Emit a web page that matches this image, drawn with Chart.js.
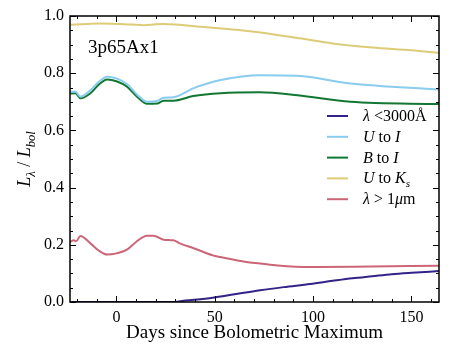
<!DOCTYPE html>
<html>
<head>
<meta charset="utf-8">
<script src="https://cdn.jsdelivr.net/npm/chart.js@4.4.0/dist/chart.umd.min.js"></script>
<style>
  body { margin: 0; background: #fff; }
  #wrap { width: 463px; height: 348px; position: relative; }
</style>
</head>
<body>
<div id="wrap"><canvas id="myChart"></canvas></div>
<script>
// Valores (días desde el máximo bolométrico)
const uvDays = [-23.6, 0, 28, 35, 49, 60, 73, 85, 98.5, 110, 120, 130, 140, 150, 164];
const uvFrac = [0, 0, 0, 0.005, 0.015, 0.027, 0.041, 0.052, 0.063, 0.074, 0.083, 0.09, 0.097, 0.102, 0.108];

const uiDays = [-23.6, -20.8, -18.3, -13.2, -9, -4.7, 0, 5.4, 10.5, 15.6, 20.7, 24, 29, 39, 53, 73, 92, 119, 164];
const uiFrac = [0.735, 0.735, 0.718, 0.74, 0.77, 0.788, 0.782, 0.762, 0.725, 0.700, 0.703, 0.714, 0.716, 0.747, 0.776, 0.793, 0.791, 0.764, 0.743];

const biDays = [-23.6, -20.8, -18.3, -13.2, -9, -4.7, 0, 5.4, 10.5, 15.6, 20.7, 24, 29, 39, 53, 73, 92, 119, 164];
const biFrac = [0.729, 0.73, 0.712, 0.73, 0.76, 0.778, 0.772, 0.753, 0.718, 0.693, 0.694, 0.704, 0.704, 0.72, 0.73, 0.733, 0.723, 0.700, 0.692];

const ukDays = [-23.6, -15, -8, 2, 8, 14, 20, 24, 30, 42.6, 55, 70, 93, 110, 130, 150, 164];
const ukFrac = [0.969, 0.972, 0.974, 0.972, 0.97, 0.968, 0.971, 0.972, 0.97, 0.9625, 0.955, 0.945, 0.922, 0.904, 0.89, 0.88, 0.871];

const irDays = [-23.6, -21.7, -20.5, -18.3, -13.2, -9, -4.7, 0, 5.4, 10, 15.6, 18.8, 24, 29, 32.5, 39, 49, 53, 66, 73, 82, 98.5, 120, 164];
const irFrac = [0.21, 0.216, 0.212, 0.231, 0.205, 0.18, 0.166, 0.17, 0.183, 0.21, 0.232, 0.232, 0.218, 0.216, 0.204, 0.189, 0.163, 0.157, 0.14, 0.135, 0.128, 0.1225, 0.123, 0.127];

const xTicks = [0, 50, 100, 150];
const yTicks = [0, 0.2, 0.4, 0.6, 0.8, 1.0];

// Leyenda: trozos de texto con estilo ("n" normal, "i" cursiva, "s" subíndice)
const legendLabels = [
  [["λ", "i"], [" <3000Å", "n"]],
  [["U", "i"], [" to ", "n"], ["I", "i"]],
  [["B", "i"], [" to ", "n"], ["I", "i"]],
  [["U", "i"], [" to ", "n"], ["K", "i"], ["s", "s"]],
  [["λ", "i"], [" > 1", "n"], ["μ", "i"], ["m", "n"]]
];
const colors = ["#332288", "#88CCEE", "#117733", "#DDCC77", "#CC6677"];
const modelName = "3p65Ax1";

function pts(xs, ys) {
  return xs.map((x, i) => ({ x: x, y: ys[i] }));
}

const serif = "'Liberation Serif', 'DejaVu Serif', serif";

function drawParts(ctx, parts, x, y, size) {
  let cx = x;
  parts.forEach(p => {
    const txt = p[0], st = p[1];
    let fs = size, dy = 0, style = "";
    if (st === "i") style = "italic ";
    if (st === "s") { style = "italic "; fs = size * 0.7; dy = size * 0.25; }
    ctx.font = style + fs + "px " + serif;
    ctx.fillText(txt, cx, y + dy);
    cx += ctx.measureText(txt).width;
  });
  return cx - x;
}

const decorPlugin = {
  id: "decor",
  afterDraw(chart) {
    const ctx = chart.ctx;
    const a = chart.chartArea;
    const xs = chart.scales.x, ys = chart.scales.y;
    ctx.save();
    ctx.strokeStyle = "#000";
    ctx.lineWidth = 1.5;
    ctx.strokeRect(a.left, a.top, a.right - a.left, a.bottom - a.top);

    ctx.lineWidth = 1;
    ctx.beginPath();
    for (let d = -20; d <= 160; d += 10) {
      const px = Math.round(xs.getPixelForValue(d)) + 0.5;
      const len = d % 50 === 0 ? 6 : 3;
      ctx.moveTo(px, a.bottom); ctx.lineTo(px, a.bottom - len);
      ctx.moveTo(px, a.top); ctx.lineTo(px, a.top + len);
    }
    for (let k = 0; k <= 20; k++) {
      const v = k * 0.05;
      const py = Math.round(ys.getPixelForValue(v)) + 0.5;
      const len = k % 4 === 0 ? 6 : 3;
      ctx.moveTo(a.left, py); ctx.lineTo(a.left + len, py);
      ctx.moveTo(a.right, py); ctx.lineTo(a.right - len, py);
    }
    ctx.stroke();

    ctx.fillStyle = "#000";
    ctx.textBaseline = "alphabetic";
    ctx.font = "19px " + serif;
    ctx.fillText(modelName, a.left + 18, 53);

    // leyenda
    const lx = a.right - 112, ly0 = 116, step = 20.8;
    legendLabels.forEach((parts, i) => {
      const y = ly0 + i * step;
      ctx.strokeStyle = colors[i];
      ctx.lineWidth = 2;
      ctx.beginPath();
      ctx.moveTo(lx, y); ctx.lineTo(lx + 21, y);
      ctx.stroke();
      ctx.fillStyle = "#000";
      drawParts(ctx, parts, lx + 36, y + 5, 16);
    });

    // etiqueta eje y
    ctx.save();
    ctx.translate(30, (a.top + a.bottom) / 2);
    ctx.rotate(-Math.PI / 2);
    const parts = [["L", "i"], ["λ", "s"], [" / ", "n"], ["L", "i"], ["bol", "s"]];
    ctx.globalAlpha = 0;
    const w = drawParts(ctx, parts, 0, 0, 18);
    ctx.globalAlpha = 1;
    drawParts(ctx, parts, -w / 2, 0, 18);
    ctx.restore();

    ctx.restore();
  }
};

const ctx = document.getElementById("myChart").getContext("2d");
const myChart = new Chart(ctx, {
  type: "line",
  data: {
    datasets: [
      { label: "uv", data: pts(uvDays, uvFrac), borderColor: colors[0] },
      { label: "UI", data: pts(uiDays, uiFrac), borderColor: colors[1] },
      { label: "BI", data: pts(biDays, biFrac), borderColor: colors[2] },
      { label: "UK", data: pts(ukDays, ukFrac), borderColor: colors[3] },
      { label: "ir", data: pts(irDays, irFrac), borderColor: colors[4] }
    ]
  },
  options: {
    responsive: true,
    maintainAspectRatio: false,
    animation: false,
    layout: { padding: { top: 16, right: 24, left: 0, bottom: 0 } },
    elements: {
      point: { radius: 0 },
      line: { borderWidth: 2, cubicInterpolationMode: "monotone", fill: false }
    },
    plugins: { legend: { display: false }, tooltip: { enabled: false } },
    scales: {
      x: {
        type: "linear",
        min: -23.6,
        max: 164,
        grid: { display: false, drawTicks: false },
        border: { display: false },
        afterBuildTicks: s => { s.ticks = xTicks.map(v => ({ value: v })); },
        afterFit: s => { s.height = 46; },
        ticks: { color: "#000", padding: 6, font: { family: serif, size: 16 }, maxRotation: 0 },
        title: {
          display: true,
          text: "Days since Bolometric Maximum",
          color: "#000",
          padding: { top: 0 },
          font: { family: serif, size: 19 }
        }
      },
      y: {
        min: 0,
        max: 1,
        grid: { display: false, drawTicks: false },
        border: { display: false },
        afterBuildTicks: s => { s.ticks = yTicks.map(v => ({ value: v })); },
        afterFit: s => { s.width = 70; },
        ticks: { color: "#000", padding: 6, font: { family: serif, size: 16 }, callback: v => v.toFixed(1) }
      }
    }
  },
  plugins: [decorPlugin]
});
</script>
</body>
</html>
